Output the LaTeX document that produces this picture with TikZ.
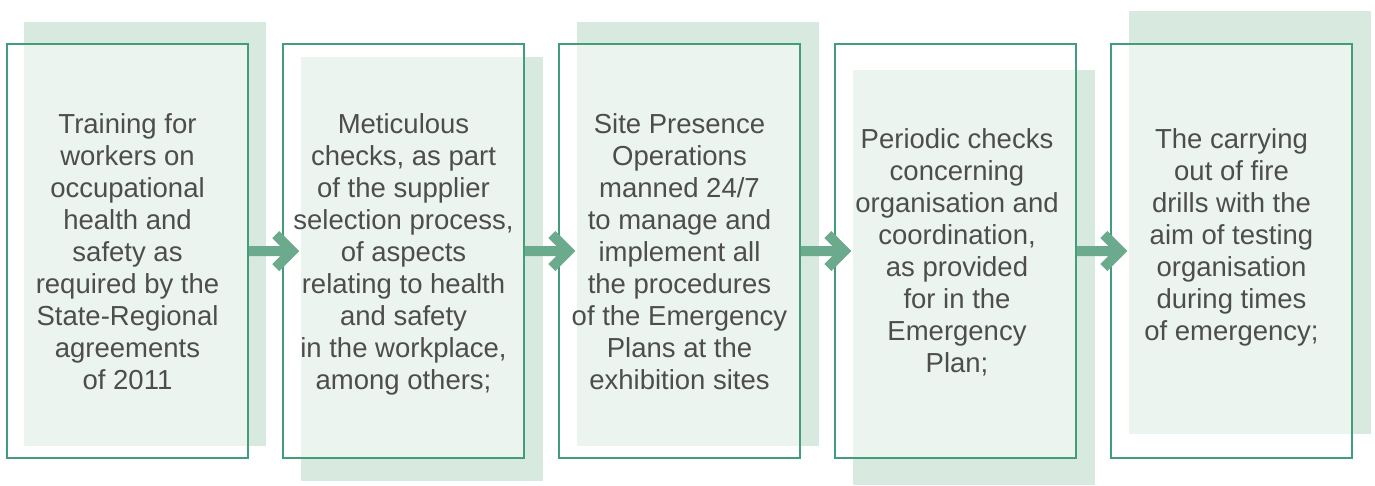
\documentclass[tikz,border=0pt]{standalone}
\usepackage{fontspec}
\setmainfont{Liberation Sans}
\usetikzlibrary{calc}
\definecolor{outl}{RGB}{66,157,122}
\definecolor{arrc}{RGB}{107,170,140}
\definecolor{shadec}{RGB}{216,234,223}
\definecolor{txtc}{RGB}{77,77,77}
\tikzset{
  shadebox/.style={fill=shadec},
  outbox/.style={draw=outl, line width=1.5pt, fill=white, fill opacity=0.5, minimum width=241pt, minimum height=414pt, inner sep=0pt},
  txt/.style={text=txtc, align=center, inner sep=0pt, font=\fontsize{27.5pt}{32pt}\selectfont},
  arr/.style={fill=arrc}
}
\newcommand{\flowarrow}[2]{%
  \fill[arr] let \p1=(#1.east), \p2=($(#2.west)+(17,0)$) in
    (\x1,\y1+5pt) -- (\x2-19pt,\y1+5pt) -- (\x2-27pt,\y1+13pt) -- (\x2-20pt,\y1+20pt) --
    (\x2,\y1) -- (\x2-20pt,\y1-20pt) -- (\x2-27pt,\y1-13pt) -- (\x2-19pt,\y1-5pt) --
    (\x1,\y1-5pt) -- cycle;}
\begin{document}
\begin{tikzpicture}[x=1pt,y=-1pt]
\useasboundingbox (0,0) rectangle (1375,485);
% shaded backgrounds
\fill[shadebox] (24,22) rectangle (266,446);
\fill[shadebox] (301,57) rectangle (543,481);
\fill[shadebox] (577,22) rectangle (819,446);
\fill[shadebox] (853,70) rectangle (1095,485);
\fill[shadebox] (1129,11) rectangle (1371,434);
% outline boxes
\node[outbox] (b1) at (127.5,251) {};
\node[outbox] (b2) at (403.5,251) {};
\node[outbox] (b3) at (679.5,251) {};
\node[outbox] (b4) at (955.5,251) {};
\node[outbox] (b5) at (1231.5,251) {};
% arrows
\flowarrow{b1}{b2}
\flowarrow{b2}{b3}
\flowarrow{b3}{b4}
\flowarrow{b4}{b5}
% texts (base anchor = baseline of last line)
\node[txt, anchor=base] (t1) at (127.5,389) {Training for\\workers on\\occupational\\health and\\safety as\\required by the\\State-Regional\\agreements\\of 2011};
\node[txt, anchor=base] (t2) at (403.5,389) {Meticulous\\checks, as part\\of the supplier\\selection process,\\of aspects\\relating to health\\and safety\\in the workplace,\\among others;};
\node[txt, anchor=base] (t3) at (679.5,389) {Site Presence\\Operations\\manned 24/7\\to manage and\\implement all\\the procedures\\of the Emergency\\Plans at the\\exhibition sites};
\node[txt, anchor=base] (t4) at (957,372) {Periodic checks\\concerning\\organisation and\\coordination,\\as provided\\for in the\\Emergency\\Plan;};
\node[txt, anchor=base] (t5) at (1231.5,340) {The carrying\\out of fire\\drills with the\\aim of testing\\organisation\\during times\\of emergency;};
\end{tikzpicture}
\end{document}
